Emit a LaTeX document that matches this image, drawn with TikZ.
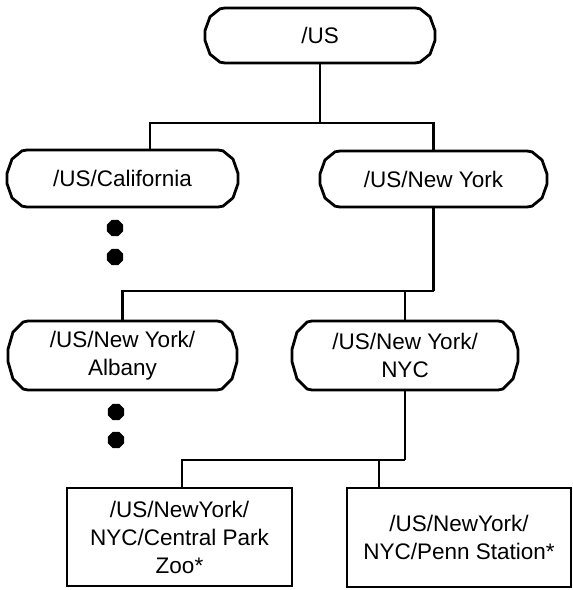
\documentclass[tikz,border=0pt]{standalone}
\usepackage{fontspec}
\setmainfont{Liberation Sans}
\usetikzlibrary{calc,shapes.geometric}

\tikzset{
  conn/.style={line width=2.8bp, line join=miter},
  outline/.style={line width=2.8bp, line join=round},
  label/.style={font=\fontsize{22.5bp}{28bp}\selectfont, align=center,
    inner sep=0pt, outer sep=0pt, rectangle},
  term/.style={label},
  leafbox/.style={label, draw, line width=2.8bp},
  dot/.style={regular polygon, regular polygon sides=8, fill=black,
    minimum size=17.5bp, inner sep=0pt},
}

% rounded "terminal" outline traced around a named node
\newcommand\termoutline[1]{%
  \draw[outline]
    ($(#1.north west)+(20,0)$) -- ($(#1.north east)+(-20,0)$)
    -- ($(#1.east)!.97!(#1.north east)+(-15,0)$)
    -- ($(#1.east)!.68!(#1.north east)+(-5,0)$)
    -- ($(#1.east)!.18!(#1.north east)$)
    -- ($(#1.east)!.18!(#1.south east)$)
    -- ($(#1.east)!.68!(#1.south east)+(-5,0)$)
    -- ($(#1.east)!.97!(#1.south east)+(-15,0)$)
    -- ($(#1.south east)+(-20,0)$) -- ($(#1.south west)+(20,0)$)
    -- ($(#1.west)!.97!(#1.south west)+(15,0)$)
    -- ($(#1.west)!.68!(#1.south west)+(5,0)$)
    -- ($(#1.west)!.18!(#1.south west)$)
    -- ($(#1.west)!.18!(#1.north west)$)
    -- ($(#1.west)!.68!(#1.north west)+(5,0)$)
    -- ($(#1.west)!.97!(#1.north west)+(15,0)$)
    -- cycle;}

\begin{document}
\begin{tikzpicture}[x=1bp, y=-1bp]
  \useasboundingbox (0,0) rectangle (573,590);

  % directory nodes
  \node[term, minimum width=230bp, minimum height=55bp] (us) at (320,35.5) {/US};
  \node[term, minimum width=231bp, minimum height=57bp] (cal) at (122.5,178.5) {/US/California};
  \node[term, minimum width=227bp, minimum height=56bp] (ny) at (433.5,179) {/US/New York};
  \node[term, minimum width=229bp, minimum height=69bp] (alb) at (122.5,355.5) {/US/New York/\\Albany};
  \node[term, minimum width=226bp, minimum height=69bp] (nyc) at (405,355.5) {/US/New York/\\NYC};

  % leaf entries
  \node[leafbox, minimum width=225bp, minimum height=98bp] (zoo) at (179.5,537)
    {/US/NewYork/\\NYC/Central Park\\Zoo*};
  \node[leafbox, minimum width=224bp, minimum height=99bp] (penn) at (459,537.5)
    {/US/NewYork/\\NYC/Penn Station*};

  \termoutline{us}
  \termoutline{cal}
  \termoutline{ny}
  \termoutline{alb}
  \termoutline{nyc}

  % ellipsis dots
  \node[dot] (d1) at (115,228) {};
  \node[dot] (d2) at (115,257) {};
  \node[dot] (d3) at (116,412) {};
  \node[dot] (d4) at (116,440) {};

  % tree connectors
  \coordinate (j1) at (320,123);
  \coordinate (j2) at (433.5,291);
  \coordinate (j3) at (405,460);

  \draw[conn] (us.south) -- (j1);
  \draw[conn] ([xshift=27.5bp]cal.north) |- (j1) -| (ny.north);

  \draw[conn] (ny.south) -- (j2);
  \draw[conn] (alb.north) |- (j2);
  \draw[conn] (nyc.north) -- (nyc.north |- j2);

  \draw[conn] (nyc.south) -- (j3);
  \draw[conn] ([xshift=2.5bp]zoo.north) |- (j3);
  \draw[conn] ([xshift=-80bp]penn.north) -- ([xshift=-80bp]penn.north |- j3);
\end{tikzpicture}
\end{document}
